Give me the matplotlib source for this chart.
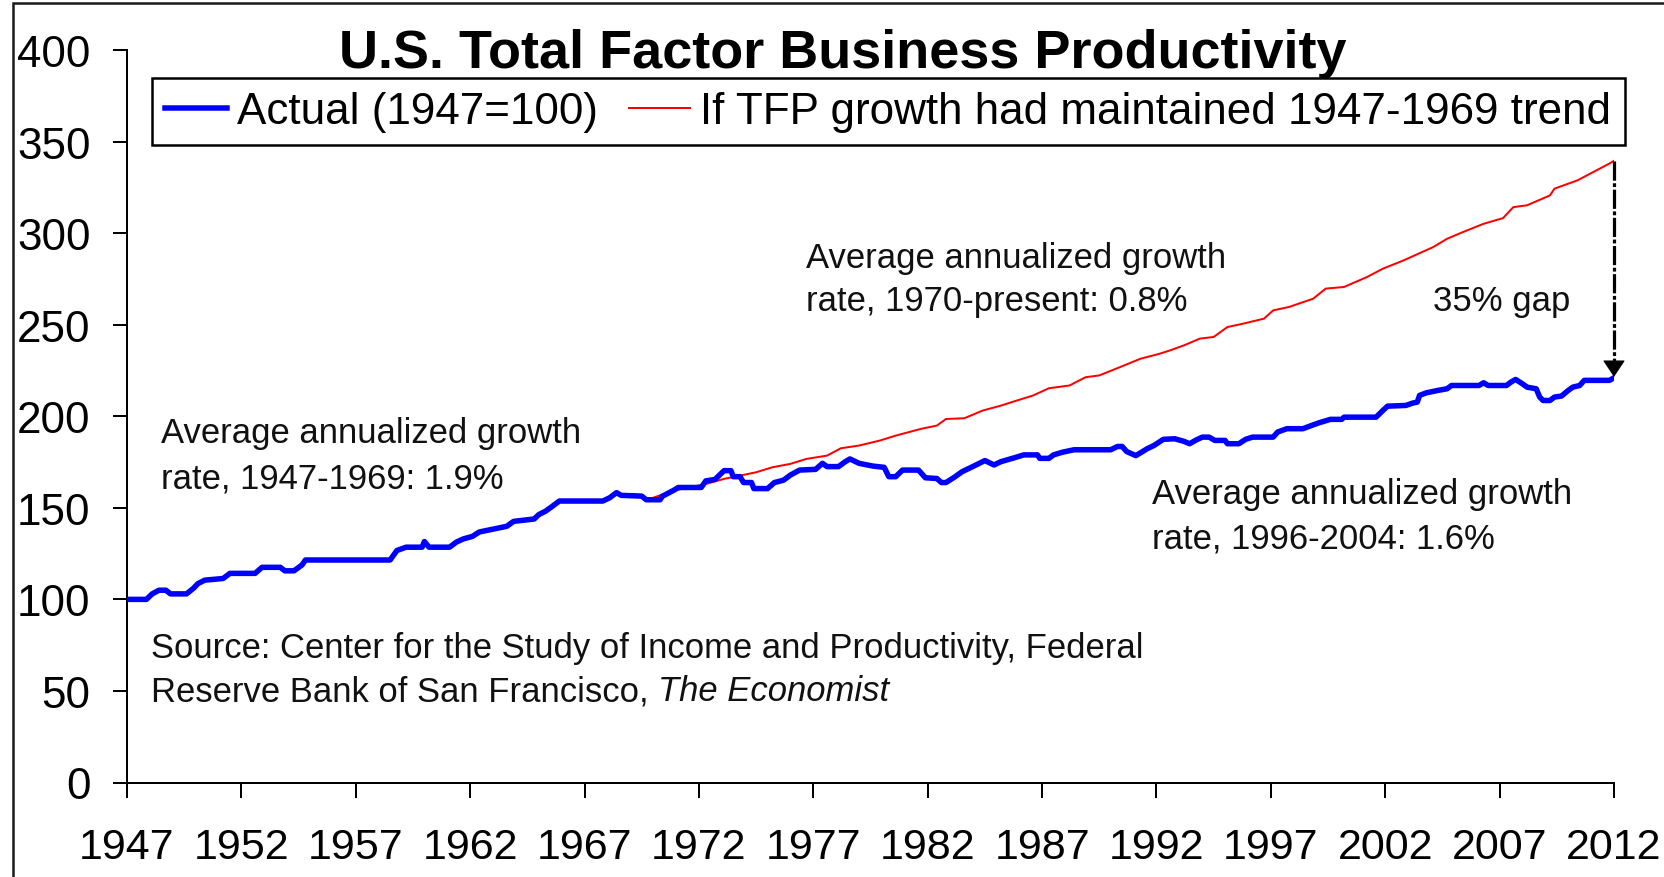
import matplotlib
matplotlib.use("Agg")
import matplotlib.pyplot as plt
from matplotlib.patches import Rectangle

# ---------------- data ----------------
actual_years = [1947.0, 1947.85, 1948.1, 1948.4, 1948.7, 1948.9, 1949.6, 1949.9, 1950.1, 1950.4,
                1951.2, 1951.5, 1952.6, 1952.9, 1953.7, 1953.9, 1954.3, 1954.65, 1954.8, 1957.6,
                1958.5, 1958.8, 1959.2, 1959.9, 1960.0, 1960.2, 1961.1, 1961.4, 1961.7, 1962.1,
                1962.4, 1963.1, 1963.6, 1963.9, 1964.8, 1965.0, 1965.3, 1965.6, 1965.9, 1967.8,
                1968.1, 1968.4, 1968.6, 1969.5, 1969.7, 1970.3, 1970.4, 1970.9, 1971.1, 1972.1,
                1972.3, 1972.7, 1973.1, 1973.4, 1973.5, 1973.8, 1973.95, 1974.3, 1974.4, 1975.0,
                1975.3, 1975.7, 1976.0, 1976.4, 1977.1, 1977.4, 1977.6, 1978.1, 1978.4, 1978.6,
                1979.0, 1979.6, 1980.1, 1980.3, 1980.6, 1980.9, 1981.6, 1981.9, 1982.4, 1982.6,
                1982.8, 1983.2, 1983.5, 1983.9, 1984.5, 1984.9, 1985.2, 1985.7, 1986.2, 1986.8,
                1986.9, 1987.3, 1987.5, 1987.9, 1988.4, 1990.0, 1990.3, 1990.5, 1990.7, 1991.1,
                1991.6, 1991.9, 1992.3, 1992.8, 1993.2, 1993.45, 1993.7, 1994.0, 1994.3, 1994.55,
                1995.0, 1995.1, 1995.6, 1995.9, 1996.2, 1997.1, 1997.3, 1997.7, 1998.4, 1998.7,
                1999.1, 1999.6, 2000.1, 2000.2, 2001.6, 2001.9, 2002.1, 2002.9, 2003.2, 2003.4,
                2003.5, 2003.8, 2004.3, 2004.7, 2004.9, 2006.1, 2006.3, 2006.5, 2007.3, 2007.5,
                2007.7, 2008.0, 2008.2, 2008.6, 2008.75, 2008.9, 2009.2, 2009.4, 2009.7, 2010.0,
                2010.2, 2010.5, 2010.7, 2011.8, 2012.0]
actual_values = [100.0, 100.0, 103.0, 105.0, 105.0, 103.0, 103.0, 106.0, 108.6, 110.5,
                 111.4, 114.2, 114.2, 117.5, 117.5, 115.6, 115.6, 118.8, 121.5, 121.5,
                 121.5, 126.7, 128.5, 128.5, 131.6, 128.5, 128.5, 131.3, 133.0, 134.4,
                 136.8, 138.6, 139.9, 142.6, 143.9, 146.3, 148.2, 150.9, 153.7, 153.7,
                 155.5, 158.3, 156.8, 156.4, 154.4, 154.4, 156.3, 159.6, 161.1, 161.1,
                 164.7, 165.5, 170.3, 170.3, 167.0, 167.0, 163.8, 163.8, 160.5, 160.5,
                 163.8, 165.1, 167.9, 170.6, 171.0, 174.3, 172.5, 172.5, 175.2, 176.7,
                 174.3, 172.8, 172.1, 167.0, 167.0, 170.6, 170.6, 166.4, 166.0, 163.8,
                 163.8, 167.0, 169.7, 172.1, 175.8, 173.4, 175.2, 177.0, 178.9, 178.9,
                 177.0, 177.0, 178.9, 180.4, 181.7, 181.7, 183.5, 183.5, 180.7, 178.5,
                 182.3, 184.1, 187.4, 187.7, 186.3, 185.0, 186.8, 188.6, 188.6, 186.8,
                 186.8, 185.0, 185.0, 187.4, 188.6, 188.6, 191.4, 193.2, 193.2, 194.6,
                 196.4, 198.3, 198.3, 199.5, 199.5, 203.2, 205.5, 205.9, 207.2, 207.7,
                 211.4, 212.8, 214.1, 215.0, 216.8, 216.8, 218.3, 216.8, 216.8, 218.7,
                 220.1, 217.7, 215.9, 215.0, 210.5, 208.6, 208.6, 210.5, 211.0, 214.1,
                 215.9, 216.8, 219.6, 219.6, 221.0]

trend_years = [1970.0, 1970.9, 1971.6, 1972.3, 1973.1, 1973.8, 1974.5, 1975.2, 1976.0, 1976.7,
               1977.6, 1978.2, 1979.0, 1979.9, 1980.6, 1981.7, 1982.4, 1982.8, 1983.6, 1984.4,
               1985.2, 1985.9, 1986.6, 1987.3, 1988.2, 1988.9, 1989.5, 1990.4, 1991.3, 1992.1,
               1992.6, 1993.2, 1993.9, 1994.5, 1995.1, 1995.8, 1996.7, 1997.1, 1997.8, 1998.85,
               1999.4, 2000.2, 2001.2, 2001.9, 2002.8, 2004.1, 2004.7, 2005.4, 2006.3, 2007.15,
               2007.6, 2008.2, 2009.2, 2009.4, 2010.4, 2011.1, 2011.8, 2012.0]
trend_values = [155.5, 159.4, 161.2, 163.0, 165.8, 167.6, 169.4, 172.1, 174.0, 176.7,
                178.5, 182.5, 184.0, 186.7, 189.4, 193.1, 194.9, 198.5, 198.9, 203.1,
                205.8, 208.6, 211.3, 215.3, 216.8, 221.3, 222.3, 226.8, 231.4, 234.0,
                236.0, 238.7, 242.4, 243.3, 248.7, 250.6, 253.3, 257.8, 259.7, 264.2,
                269.7, 270.6, 276.0, 280.6, 285.1, 292.4, 296.9, 300.6, 305.1, 308.2,
                314.2, 315.2, 320.6, 324.3, 328.8, 333.4, 338.0, 339.5]

x_ticks = list(range(1947, 2013, 5))
y_ticks = list(range(0, 401, 50))

title = "U.S. Total Factor Business Productivity"
legend_labels = ["Actual (1947=100)", "If TFP growth had maintained 1947-1969 trend"]
note_early = ["Average annualized growth", "rate, 1947-1969: 1.9%"]
note_late = ["Average annualized growth", "rate, 1970-present: 0.8%"]
note_boom = ["Average annualized growth", "rate, 1996-2004: 1.6%"]
gap_label = "35% gap"
source_line1 = "Source: Center for the Study of Income and Productivity, Federal"
source_line2 = "Reserve Bank of San Francisco,"
source_italic = "The Economist"

# ---------------- layout ----------------
W, H, DPI = 1664, 878, 100


def pt(pixels):
    return pixels * 72.0 / DPI


plt.rcParams["font.family"] = ["Liberation Sans", "DejaVu Sans"]

fig = plt.figure(figsize=(W / DPI, H / DPI), dpi=DPI)
fig.patch.set_facecolor("white")

ax_left, ax_right, ax_top, ax_bottom = 127, 1614, 51, 783.5
ax = fig.add_axes([ax_left / W, 1 - ax_bottom / H, (ax_right - ax_left) / W, (ax_bottom - ax_top) / H])
ax.set_facecolor("white")

ax.plot(trend_years, trend_values, color="#ff0000", lw=pt(2), label=legend_labels[1], zorder=2)
ax.plot(actual_years, actual_values, color="#0000ff", lw=pt(5.5), label=legend_labels[0], zorder=3)

ax.set_xlim(x_ticks[0], x_ticks[-1])
ax.set_ylim(y_ticks[0], y_ticks[-1])
ax.set_xticks(x_ticks)
ax.set_yticks(y_ticks)
for side in ("top", "right"):
    ax.spines[side].set_visible(False)
for side in ("left", "bottom"):
    ax.spines[side].set_linewidth(pt(2))
    ax.spines[side].set_color("black")
ax.tick_params(axis="both", direction="out", length=pt(14.5), width=pt(2), color="black",
               labelcolor="black")
ax.tick_params(axis="x", labelsize=pt(43), pad=pt(30))
ax.tick_params(axis="y", labelsize=pt(44), pad=pt(22))

# legend (actual series first)
handles, labels = ax.get_legend_handles_labels()
order = [labels.index(legend_labels[0]), labels.index(legend_labels[1])]
leg = ax.legend([handles[i] for i in order], [labels[i] for i in order],
                loc="upper left", bbox_to_anchor=(152 / W, 1 - 79 / H),
                bbox_transform=fig.transFigure, ncol=2, fontsize=pt(44),
                handlelength=1.4, handletextpad=0.23, columnspacing=0.7,
                borderpad=0.3, borderaxespad=0, frameon=True, fancybox=False,
                edgecolor="black", framealpha=1)
leg.get_frame().set_linewidth(pt(2.5))

# title
fig.text(842.5 / W, 1 - 68.4 / H, title, ha="center", va="baseline",
         fontsize=pt(54), fontweight="bold", color="black")

# annotation texts
note_fs = pt(34.6)
for x0, y1, y2, lines in [(1948.5, 185.7, 161.3, note_early),
                          (1976.7, 281.5, 257.8, note_late),
                          (1991.8, 152.7, 128.4, note_boom)]:
    ax.text(x0, y1, lines[0], fontsize=note_fs, ha="left", va="baseline", color="#111111")
    ax.text(x0, y2, lines[1], fontsize=note_fs, ha="left", va="baseline", color="#111111")
ax.text(2004.1, 257.8, gap_label, fontsize=note_fs, ha="left", va="baseline", color="#111111")

# source
src_fs = pt(34.6)
ax.text(1948.04, 68.6, source_line1, fontsize=src_fs, ha="left", va="baseline", color="#111111")
t2 = ax.text(1948.04, 44.8, source_line2, fontsize=src_fs, ha="left", va="baseline", color="#111111")
ax.annotate(source_italic, xy=(1, 0), xycoords=t2, xytext=(pt(9.5), 0), textcoords="offset points",
            fontsize=src_fs, style="italic", ha="left", va="bottom", color="#111111")

# gap arrow from the end of the trend line down to the end of the actual line
gap_x = trend_years[-1]
top_v = trend_values[-1]
tip_v = actual_values[-1] + 0.5
head_units = 15 / 1.83
ax.plot([gap_x, gap_x], [top_v, tip_v + head_units * 0.8], color="black", lw=pt(3.2),
        linestyle=(0, (6, 0.8, 1.2, 0.8)), solid_capstyle="butt", zorder=4, clip_on=False)
ax.annotate("", xy=(gap_x, tip_v), xytext=(gap_x, tip_v + head_units),
            arrowprops=dict(arrowstyle="-|>,head_length=0.75,head_width=0.5",
                            mutation_scale=pt(20), color="black", lw=pt(1),
                            shrinkA=0, shrinkB=0), zorder=5, annotation_clip=False)

# outer frame of the picture (right/bottom run off the canvas)
fig.add_artist(Rectangle((12.5 / W, -0.1), 1.2, 1.1 - 4.3 / H, transform=fig.transFigure,
                         fill=False, edgecolor="#1a1a1a", lw=pt(2.5)))

fig.savefig("out.png", dpi=DPI, facecolor="white")
